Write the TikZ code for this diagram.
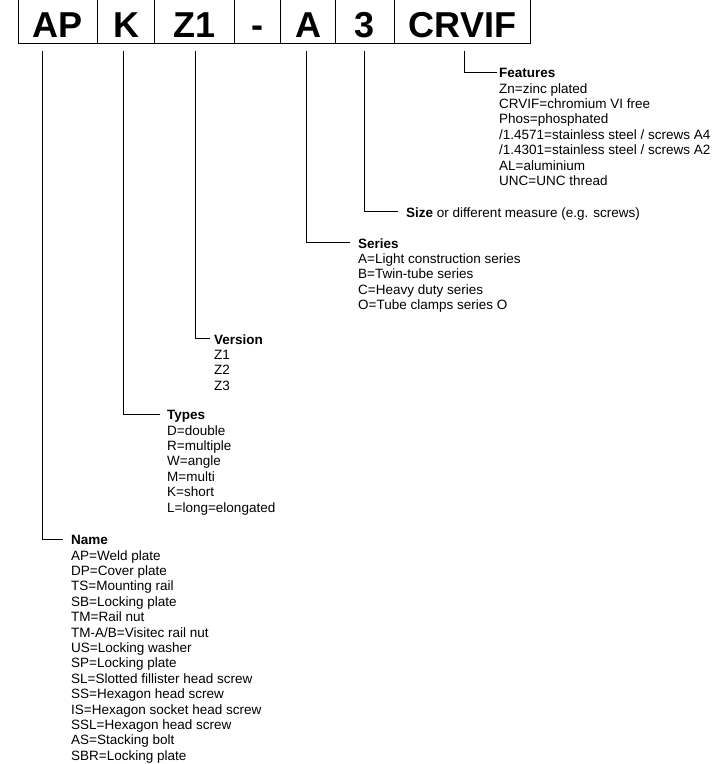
\documentclass[tikz,border=0pt]{standalone}
\usepackage{fontspec}
\setmainfont{Liberation Sans}
\begin{document}
\begin{tikzpicture}[x=1pt,y=-1pt,
  cell/.style={draw, line width=1pt, inner sep=0pt, minimum height=50pt,
    text height=37pt, text depth=0pt, anchor=north west,
    font=\fontsize{36}{40}\selectfont\bfseries},
  hook/.style={line width=1pt},
  info/.style={anchor=north west, inner sep=0pt, align=left,
    font=\fontsize{13.5}{15.4}\selectfont}]
\useasboundingbox (0,0) rectangle (726,764);
% code boxes
\node[cell, minimum width=79pt]  (ap)  at (18,-7)  {AP};
\node[cell, minimum width=57pt]  (k)   at (97,-7)  {K};
\node[cell, minimum width=80pt]  (z)   at (154,-7) {Z1};
\node[cell, minimum width=46pt]  (dash) at (234,-7) {-};
\node[cell, minimum width=55pt]  (a)   at (280,-7) {A};
\node[cell, minimum width=59pt]  (three) at (335,-7) {3};
\node[cell, minimum width=136pt] (cr)  at (394,-7) {CRVIF};
% tick starts
\coordinate (t-ap) at (42,51);
\coordinate (t-k) at (123,51);
\coordinate (t-z) at (195,51);
\coordinate (t-a) at (306,51);
\coordinate (t-3) at (364,51);
\coordinate (t-cr) at (464,51);
% hook ends
\coordinate (h-feat) at (497,72);
\coordinate (h-size) at (398,211);
\coordinate (h-ser) at (350,242);
\coordinate (h-ver) at (210,338);
\coordinate (h-typ) at (160,414);
\coordinate (h-name) at (63,539);
% labels
\node[info] (feat) at (499,68.2) {\textbf{Features}\\Zn=zinc plated\\CRVIF=chromium VI free\\Phos=phosphated\\/1.4571=stainless steel / screws A4\\/1.4301=stainless steel / screws A2\\AL=aluminium\\UNC=UNC thread};
\node[info] (size) at (406,207.2) {\textbf{Size} or different measure (e.g. screws)};
\node[info] (ser) at (358,238.2) {\textbf{Series}\\A=Light construction series\\B=Twin-tube series\\C=Heavy duty series\\O=Tube clamps series O};
\node[info] (ver) at (214,334.2) {\textbf{Version}\\Z1\\Z2\\Z3};
\node[info] (typ) at (167,410.2) {\textbf{Types}\\D=double\\R=multiple\\W=angle\\M=multi\\K=short\\L=long=elongated};
\node[info] (name) at (71,535.2) {\textbf{Name}\\AP=Weld plate\\DP=Cover plate\\TS=Mounting rail\\SB=Locking plate\\TM=Rail nut\\TM-A/B=Visitec rail nut\\US=Locking washer\\SP=Locking plate\\SL=Slotted fillister head screw\\SS=Hexagon head screw\\IS=Hexagon socket head screw\\SSL=Hexagon head screw\\AS=Stacking bolt\\SBR=Locking plate};
% connectors
\draw[hook] (t-cr) |- (h-feat);
\draw[hook] (t-3) |- (h-size);
\draw[hook] (t-a) |- (h-ser);
\draw[hook] (t-z) |- (h-ver);
\draw[hook] (t-k) |- (h-typ);
\draw[hook] (t-ap) |- (h-name);
\end{tikzpicture}
\end{document}
